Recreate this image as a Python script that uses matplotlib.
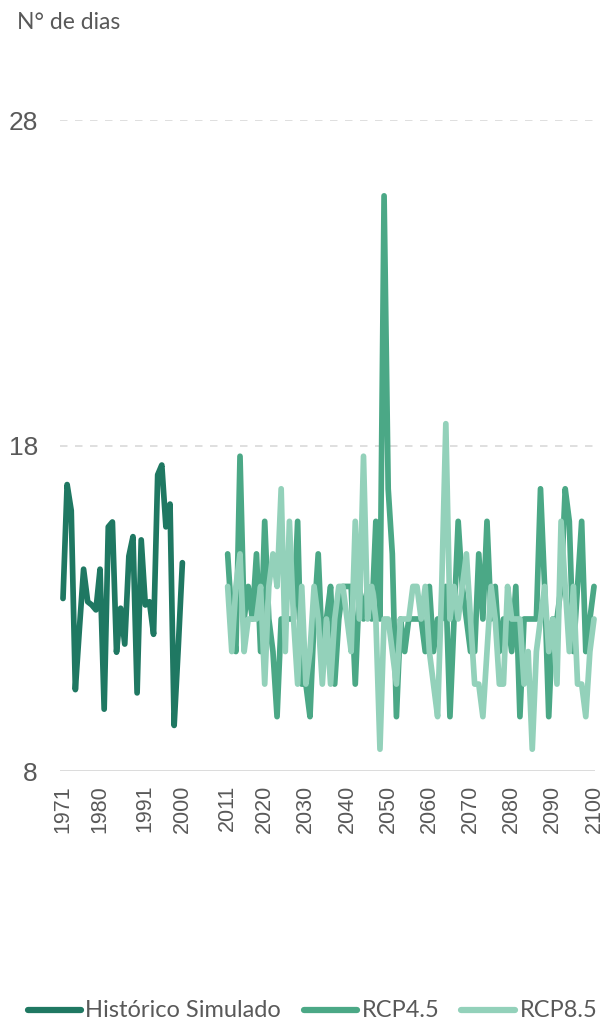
import matplotlib
matplotlib.use("Agg")
import matplotlib.pyplot as plt
from matplotlib.lines import Line2D

# ---------------- data ----------------
hist_years = list(range(1971, 2001))
hist_values = [13.3, 16.8, 16.0, 10.5, 12.4, 14.2, 13.2, 13.1, 12.95, 14.2,
               9.9, 15.5, 15.65, 11.65, 13.0, 11.9, 14.6, 15.2, 10.4, 15.1,
               13.1, 13.2, 12.2, 17.1, 17.4, 15.5, 16.2, 9.4, 11.8, 14.4]

proj_years = list(range(2011, 2101))
rcp45_values = [14.67, 12.67, 11.67, 17.67, 12.67, 13.67, 12.67, 14.67, 11.67, 15.67,
                12.67, 11.67, 9.67, 12.67, 12.67, 12.67, 12.67, 15.67, 10.67, 10.67,
                9.67, 12.67, 14.67, 11.67, 12.67, 13.67, 10.67, 12.67, 13.67, 13.67,
                13.67, 10.67, 13.67, 12.67, 13.67, 12.67, 15.67, 12.67, 25.67, 16.67,
                14.67, 9.67, 12.67, 11.67, 12.67, 12.67, 12.67, 12.67, 11.67, 13.67,
                11.67, 12.67, 12.67, 13.67, 9.67, 12.67, 15.67, 13.67, 12.67, 11.67,
                11.67, 14.67, 12.67, 15.67, 12.67, 13.67, 11.67, 12.67, 12.67, 11.67,
                13.67, 9.67, 12.67, 12.67, 12.67, 12.67, 16.67, 13.67, 9.67, 12.67,
                12.67, 13.67, 16.67, 15.67, 11.67, 13.67, 15.67, 11.67, 12.67, 13.67]
rcp85_values = [13.67, 11.67, 13.67, 14.67, 11.67, 12.67, 12.67, 12.67, 13.67, 10.67,
                13.67, 14.67, 13.67, 16.67, 11.67, 15.67, 12.67, 10.67, 13.67, 10.67,
                11.67, 13.67, 12.67, 10.67, 12.67, 10.67, 12.67, 13.67, 13.67, 12.67,
                11.67, 15.67, 12.67, 17.67, 12.67, 13.67, 12.67, 8.67, 12.67, 12.67,
                11.67, 10.67, 12.67, 12.67, 12.67, 13.67, 13.67, 12.67, 13.67, 11.67,
                10.67, 9.67, 13.67, 18.67, 12.67, 13.67, 12.67, 13.67, 14.67, 12.67,
                10.67, 10.67, 9.67, 11.67, 13.67, 12.67, 10.67, 10.67, 13.67, 12.67,
                12.67, 12.67, 10.67, 11.67, 8.67, 11.67, 12.67, 13.67, 11.67, 12.67,
                10.67, 15.67, 13.67, 11.67, 13.67, 10.67, 10.67, 9.67, 11.67, 12.67]

series_names = ["Histórico Simulado", "RCP4.5", "RCP8.5"]
series_colors = ["#1f7862", "#4ba886", "#93d1ba"]
x_tick_years = [1971, 1980, 1991, 2000, 2011, 2020, 2030, 2040, 2050, 2060,
                2070, 2080, 2090, 2100]
y_ticks = [8, 18, 28]

# ---------------- figure ----------------
W, H = 605, 1022
fig = plt.figure(figsize=(W / 100, H / 100), dpi=100)
ax = fig.add_axes([60 / W, 1 - 771 / H, 535 / W, (771 - 120) / H])

lw = 4.1
kw = dict(solid_capstyle="round", solid_joinstyle="round", clip_on=False)
ax.plot(hist_years, hist_values, color=series_colors[0], lw=lw, zorder=3, **kw)
ax.plot(proj_years, rcp45_values, color=series_colors[1], lw=lw, zorder=3, **kw)
ax.plot(proj_years, rcp85_values, color=series_colors[2], lw=lw, zorder=4, **kw)
ax.set_xlim(1970.27, 2100.24)
ax.set_ylim(8, 28)

for yv in y_ticks[1:]:
    ax.axhline(yv, color="#d9d9d9", lw=1.2, ls=(0, (4.5, 4.5)), zorder=1)
ax.axhline(8, color="#d9d9d9", lw=1.3, zorder=2)

for s in ax.spines.values():
    s.set_visible(False)

ax.set_yticks(y_ticks)
ax.set_yticklabels([str(v) for v in y_ticks], fontsize=19, color="#595959",
                   family="Liberation Sans")
ax.tick_params(axis="y", length=0, pad=16)
ax.set_xticks(x_tick_years)
ax.set_xticklabels([str(v) for v in x_tick_years], rotation=90, fontsize=15.5,
                   color="#595959", family="Liberation Sans")
ax.tick_params(axis="x", length=0, pad=10)

fig.text(17 / W, 1 - 22 / H, "N° de dias", fontsize=16.5, color="#595959",
         family="Lato", va="center", ha="left")

# legend drawn manually in pixel positions
leg_y = 1 - 1010 / H
handle_x = [(28, 81), (304, 357), (461, 515)]
text_x = [85, 362, 520]
for (x0, x1), tx, name, col in zip(handle_x, text_x, series_names, series_colors):
    fig.add_artist(Line2D([x0 / W, x1 / W], [leg_y, leg_y], color=col, lw=4.5,
                          solid_capstyle="round", transform=fig.transFigure))
    fig.text(tx / W, leg_y, name, fontsize=17, color="#595959", family="Lato",
             va="center", ha="left")

fig.savefig("out.png", dpi=100)
